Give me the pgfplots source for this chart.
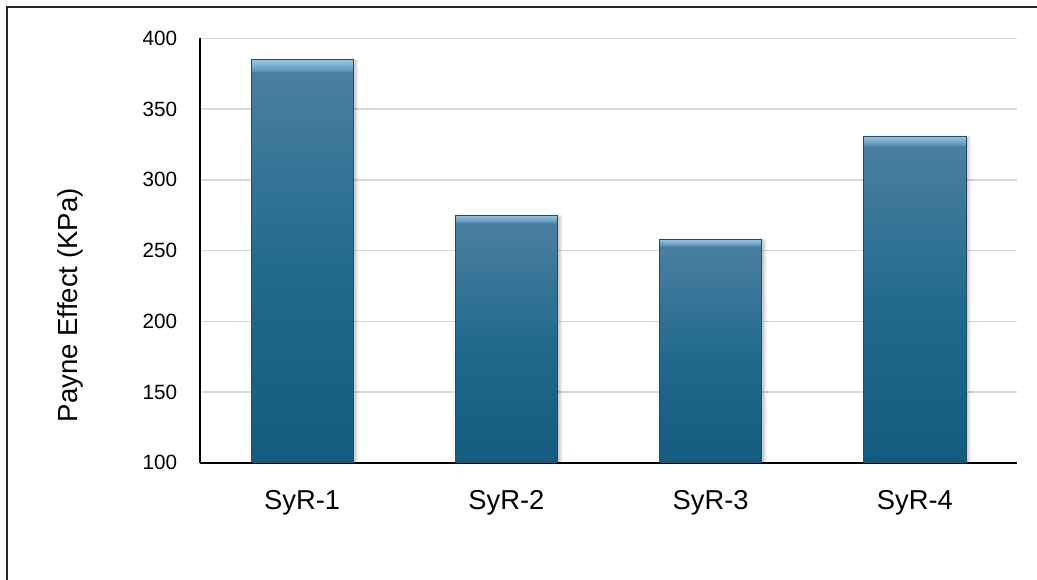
\documentclass[border=0pt]{standalone}
\usepackage{fontspec}
\setmainfont{Liberation Sans}
\usepackage{pgfplots}
\pgfplotsset{compat=1.18}
\usetikzlibrary{shadows.blur}

\definecolor{bartop}{HTML}{4A7FA1}
\definecolor{barmid}{HTML}{1F698C}
\definecolor{barbot}{HTML}{135C7F}
\definecolor{baredge}{HTML}{284C63}
\definecolor{bevlight}{HTML}{9AC6E2}
\definecolor{bevdark}{HTML}{5F93B5}
\definecolor{gridgray}{HTML}{D9D9D9}

% bar face: dark foot, mid-blue body, lighter top with a bright bevel band
% (a path's bounding box is mapped onto the 25bp--75bp part of the shading)
\pgfdeclareverticalshading{barface}{100bp}{%
  color(0bp)=(barbot); color(25bp)=(barbot); color(47.5bp)=(barmid);
  color(73.5bp)=(bartop); color(73.6bp)=(bevdark);
  color(75bp)=(bevlight); color(100bp)=(bevlight)}

\pgfplotsset{bluebar/.style={
  draw=baredge, line width=0.6pt,
  shading=barface, shade,
  blur shadow={shadow xshift=2.2pt, shadow yshift=-0.8pt, shadow opacity=25, shadow blur steps=6, shadow blur radius=2pt}}}

\newcommand{\labfont}{\fontsize{15.5pt}{18pt}\selectfont}

\begin{document}
\begin{tikzpicture}
\useasboundingbox (0,0) rectangle (777.75pt,435pt);
% outer chart frame
\draw[line width=1.5pt, black!85] (5.25pt,-30pt) -- (5.25pt,429.75pt) -- (820pt,429.75pt);
\begin{axis}[
  at={(150pt,88pt)}, anchor=south west,
  scale only axis, width=612.75pt, height=318.15pt,
  xmin=-0.5, xmax=3.5, ymin=100, ymax=400,
  xtick={0,1,2,3}, xticklabels={SyR-1,SyR-2,SyR-3,SyR-4},
  ytick={100,150,...,400},
  ymajorgrids, grid style={gridgray, line width=1pt},
  axis x line*=bottom, axis y line*=left,
  axis line style={black, line width=1.5pt},
  major tick length=0pt,
  /pgf/number format/assume math mode=true,
  yticklabel style={font=\labfont, anchor=east, inner sep=0pt, xshift=-17pt},
  xticklabel style={font=\fontsize{20.5pt}{24pt}\selectfont, anchor=north, inner sep=0pt, yshift=-20.5pt},
  ylabel={Payne Effect (KPa)},
  every axis y label/.style={at={(axis description cs:-0.159,0.371)}, rotate=90, anchor=center, font=\fontsize{20.7pt}{24pt}\selectfont},
  ybar, bar width=0.5, bar shift=0pt,
]
% one plot per bar, so each bar gets its own shading
\addplot[bluebar] coordinates {(0,385)};
\addplot[bluebar] coordinates {(1,275)};
\addplot[bluebar] coordinates {(2,258)};
\addplot[bluebar] coordinates {(3,331)};
\end{axis}
\end{tikzpicture}
\end{document}
